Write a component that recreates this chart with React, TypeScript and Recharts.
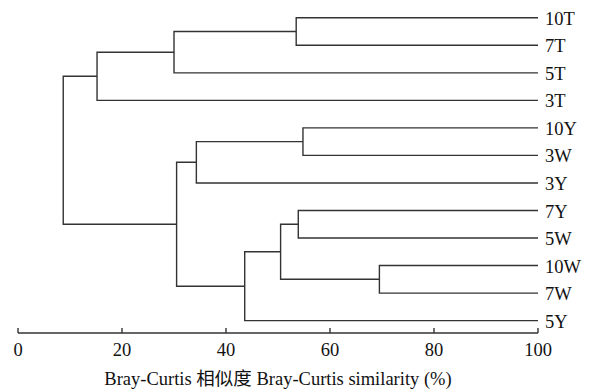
import { Scatter, ScatterChart, XAxis, YAxis } from 'recharts';

const leaves = ['10T', '7T', '5T', '3T', '10Y', '3W', '3Y', '7Y', '5W', '10W', '7W', '5Y'];

// linkage: ids 0..11 are leaves, 12+ are clusters in merge order
const mergeLeft = [0, 12, 13, 4, 15, 7, 9, 17, 19, 16, 14];
const mergeRight = [1, 2, 3, 5, 6, 8, 10, 18, 11, 20, 21];
const mergeSimilarity = [53.5, 30.0, 15.2, 54.8, 34.3, 53.9, 69.5, 50.5, 43.6, 30.5, 8.7];

const xTicks = [0, 20, 40, 60, 80, 100];
const xTitle = 'Bray-Curtis 相似度  Bray-Curtis similarity (%)';

type Pt = { x: number; y: number };

function buildLinks(): Pt[][] {
  const nodeX: number[] = leaves.map(() => 100);
  const nodeY: number[] = leaves.map((_, i) => i);
  const links: Pt[][] = [];
  mergeSimilarity.forEach((s, i) => {
    const a = mergeLeft[i];
    const b = mergeRight[i];
    links.push([
      { x: nodeX[a], y: nodeY[a] },
      { x: s, y: nodeY[a] },
      { x: s, y: nodeY[b] },
      { x: nodeX[b], y: nodeY[b] },
    ]);
    nodeX.push(s);
    nodeY.push((nodeY[a] + nodeY[b]) / 2);
  });
  return links;
}

const links = buildLinks();

const serif = 'Liberation Serif';
const titleFont = 'Liberation Serif, Noto Sans CJK SC';
const ink = '#111111';
const lineColor = '#333333';
const fs = 18.5;

function XTick({ x, y, payload }: any) {
  return (
    <text x={x} y={y} dy="0.71em" textAnchor="middle" style={{ fontFamily: serif, fontSize: fs }} fill={ink}>
      {payload.value}
    </text>
  );
}

function LeafTick({ x, y, payload }: any) {
  return (
    <text x={x} y={y} dy="0.38em" textAnchor="start" style={{ fontFamily: serif, fontSize: fs }} fill={ink}>
      {leaves[payload.value] ?? ''}
    </text>
  );
}

function XTitle({ viewBox }: any) {
  const { x, y, width, height } = viewBox;
  return (
    <text x={x + width / 2} y={y + height - 5} textAnchor="middle" style={{ fontFamily: titleFont, fontSize: fs }} fill={ink}>
      {xTitle}
    </text>
  );
}

export default function App() {
  return (
    <div style={{ position: 'absolute', left: 0, top: 0, background: '#fff' }}>
      <ScatterChart width={592} height={390} margin={{ top: 4, right: 0, bottom: 0, left: 18 }}>
        <XAxis
          type="number"
          dataKey="x"
          domain={[0, 100]}
          ticks={xTicks}
          interval={0}
          height={57}
          tickSize={-5}
          tickMargin={15}
          axisLine={{ stroke: lineColor, strokeWidth: 1.4 }}
          tickLine={{ stroke: lineColor, strokeWidth: 1.4 }}
          tick={XTick}
          label={{ content: (p: any) => <XTitle {...p} /> }}
        />
        <YAxis
          type="number"
          dataKey="y"
          orientation="right"
          reversed
          domain={[-0.5, 11.45]}
          ticks={leaves.map((_, i) => i)}
          interval={0}
          width={54}
          axisLine={false}
          tickLine={false}
          tickMargin={1}
          tick={LeafTick}
        />
        {links.map((pts, i) => (
          <Scatter
            key={i}
            data={pts}
            line={{ stroke: lineColor, strokeWidth: 1.4 }}
            lineType="joint"
            shape={() => <g />}
            legendType="none"
            isAnimationActive={false}
          />
        ))}
      </ScatterChart>
    </div>
  );
}
